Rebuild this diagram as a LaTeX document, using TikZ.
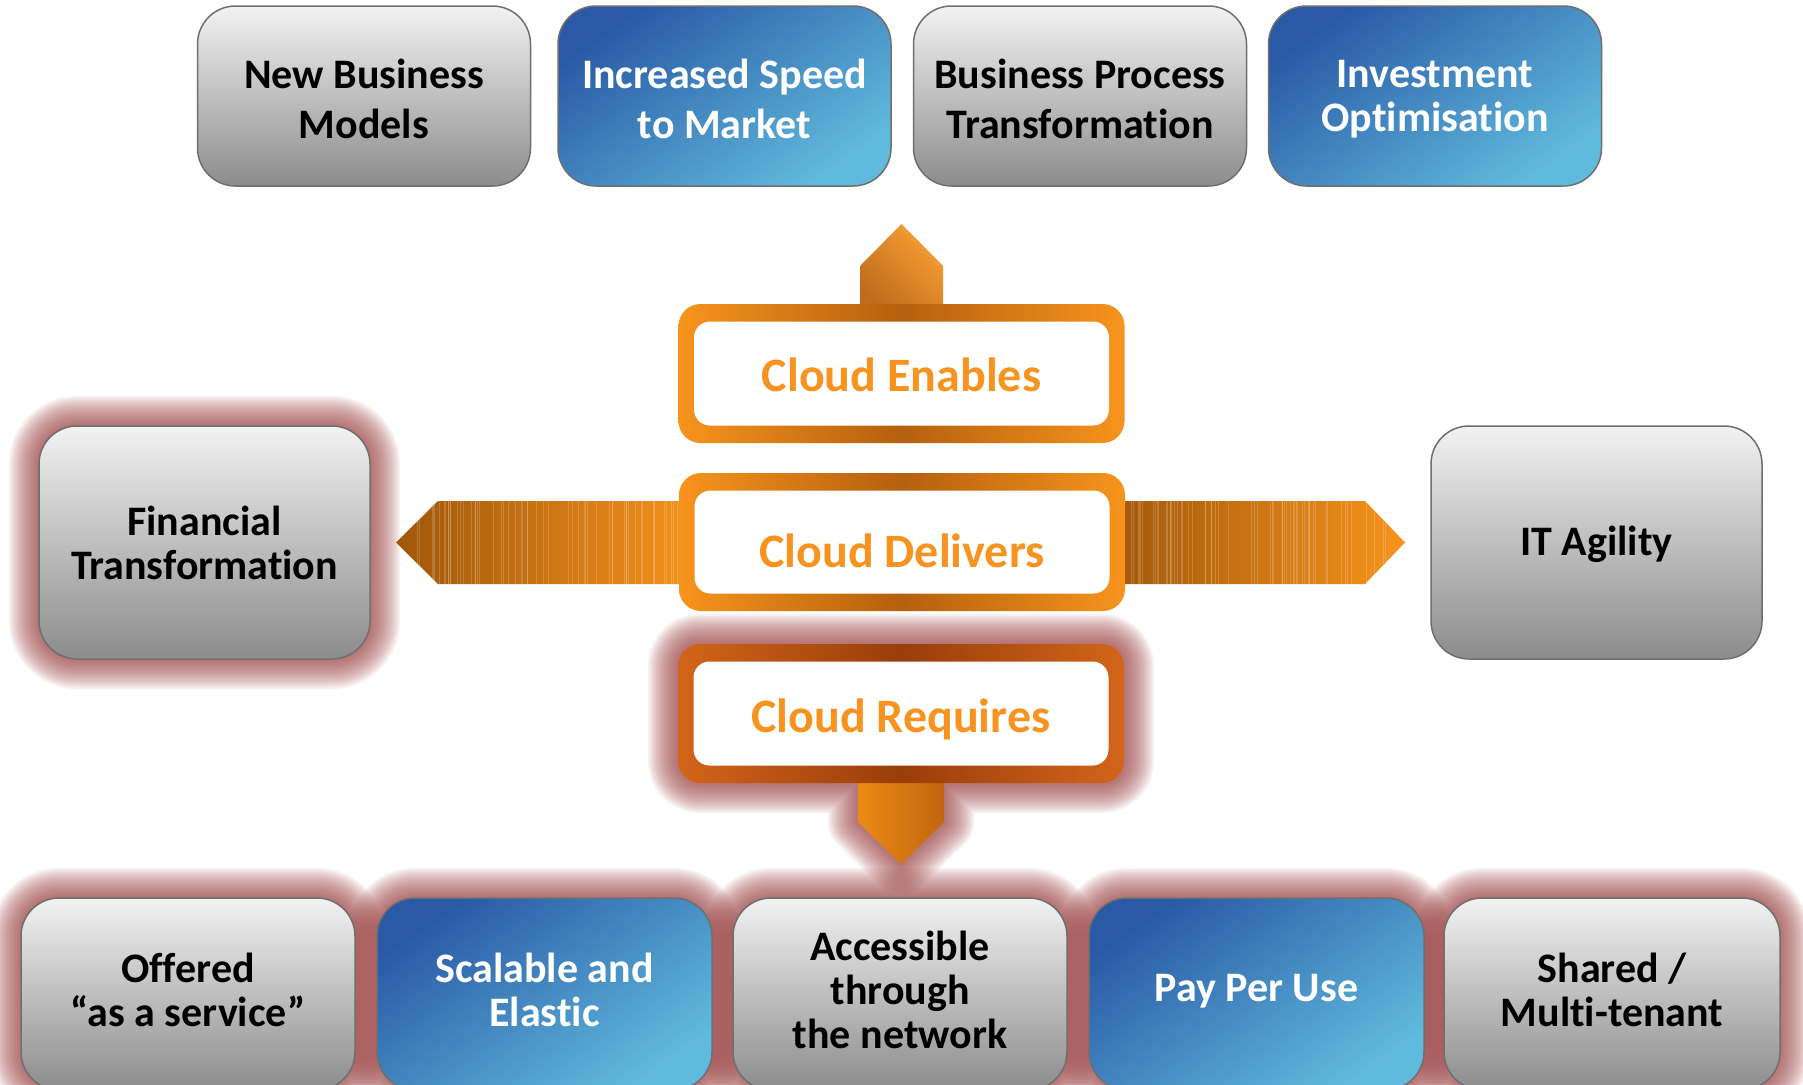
\documentclass[tikz,border=0pt]{standalone}
\usepackage{fontspec}
\setmainfont{Carlito}[Ligatures=NoCommon]
\usetikzlibrary{calc}
\definecolor{graytop}{HTML}{F2F2F2}
\definecolor{graybot}{HTML}{8C8C8C}
\definecolor{boxline}{HTML}{6F6F6F}
\definecolor{bluedark}{HTML}{2A5AA6}
\definecolor{bluelight}{HTML}{60BADD}
\definecolor{orng}{HTML}{F7941D}
\definecolor{orngdark}{HTML}{B5600E}
\definecolor{rqedge}{HTML}{D2651A}
\definecolor{rqdark}{HTML}{9A3D0A}
\definecolor{glowc}{HTML}{9C4040}
\definecolor{cloudtxt}{HTML}{F7931E}
\definecolor{arrdark}{HTML}{A0560A}
\definecolor{uptop}{HTML}{F8A035}
\definecolor{upbot}{HTML}{C06C1C}
\definecolor{dnleft}{HTML}{EC8A14}
\definecolor{dnright}{HTML}{C0660E}
\tikzset{
  box/.style={rounded corners=38pt, draw=boxline, line width=1.5pt,
    minimum width=333pt, minimum height=180pt, inner sep=0pt, align=center,
    font=\fontsize{42}{50}\selectfont\bfseries},
  tightbox/.style={font=\fontsize{42}{44}\selectfont\bfseries},
  graybox/.style={box, top color=graytop, bottom color=graybot, text=black},
  bluebox/.style={box, top color=bluedark, bottom color=bluelight, shading angle=35, text=white},
  boxtext/.style={inner sep=0pt, align=center, font=\fontsize{42}{50}\selectfont\bfseries},
  frameout/.style={rounded corners=22pt, minimum width=446pt, minimum height=139pt,
    inner sep=0pt, left color=orng, right color=orng, middle color=orngdark},
  framereq/.style={frameout, left color=rqedge, right color=rqedge, middle color=rqdark},
  framein/.style={rounded corners=16pt, fill=white, minimum width=415pt, minimum height=104pt,
    inner sep=0pt},
  cloudtext/.style={inner sep=0pt, text=cloudtxt, font=\fontsize{48}{56}\selectfont\bfseries},
  glowline/.style={glowc, draw opacity=0.075, line join=round},
  stripe/.style={white, draw opacity=0.18, line width=0.8pt}
}
\newcommand\glowrect[4]{%
  \foreach \w in {60,56,...,4}{%
    \draw[glowline, line width=\w pt, rounded corners=38pt] (#1,#2) rectangle (#3,#4);}}
\begin{document}
\begin{tikzpicture}[x=1pt,y=-1pt]
\useasboundingbox (0,0) rectangle (1803,1084);
\fill[white] (0,0) rectangle (1803,1084);

% glows
\glowrect{39}{426}{370}{659}
\glowrect{21}{898}{355}{1090}
\glowrect{377}{898}{712}{1090}
\glowrect{733}{898}{1067}{1090}
\glowrect{1089}{898}{1424}{1090}
\glowrect{1444}{898}{1780}{1090}
\foreach \w in {60,56,...,4}{%
  \draw[glowline, line width=\w pt] [rounded corners=22pt] (678,644) rectangle (1124,783)
    [sharp corners] (858,780) -- (944,780) -- (944,822) -- (901,864) -- (858,822) -- cycle;}

% horizontal arrows
\shade[left color=arrdark, right color=orng] (396,542.5) -- (438,501) -- (700,501) -- (700,584) -- (438,584) -- cycle;
\begin{scope}
  \clip (396,542.5) -- (438,501) -- (700,501) -- (700,584) -- (438,584) -- cycle;
  \pgfmathsetseed{7}
  \foreach \i in {1,...,60}{\pgfmathsetmacro\xx{400+rnd*290}
    \draw[stripe] (\xx,495) -- (\xx,590);}
\end{scope}
\shade[left color=arrdark, right color=orng] (1105,501) -- (1365,501) -- (1405,542.5) -- (1365,584) -- (1105,584) -- cycle;
\begin{scope}
  \clip (1105,501) -- (1365,501) -- (1405,542.5) -- (1365,584) -- (1105,584) -- cycle;
  \pgfmathsetseed{11}
  \foreach \i in {1,...,60}{\pgfmathsetmacro\xx{1120+rnd*280}
    \draw[stripe] (\xx,495) -- (\xx,590);}
\end{scope}

% up arrow
\shade[top color=uptop, bottom color=upbot, shading angle=-45]
  (860,310) -- (860,266) -- (901.5,224) -- (943,266) -- (943,310) -- cycle;
% down arrow
\shade[left color=dnleft, right color=dnright]
  (858,775) -- (944,775) -- (944,822) -- (901,864) -- (858,822) -- cycle;

% cloud frames
\node[frameout] (enF) at (901.5,373.5) {};
\node[framein] (enI) at (enF.center) {};
\node[cloudtext] (enT) at ($(enF.center)+(0,1)$) {Cloud Enables};
\node[frameout, minimum height=138pt] (dlF) at (902,542) {};
\node[framein, minimum height=103pt] (dlI) at (dlF.center) {};
\node[cloudtext] (dlT) at ($(dlF.center)+(0,9)$) {Cloud Delivers};
\node[framereq] (rqF) at (901,713.5) {};
\node[framein] (rqI) at (rqF.center) {};
\node[cloudtext] (rqT) at ($(rqF.center)+(0,6)$) {Cloud Requires};

% top row
\node[graybox] (nbm) at (364,96) {};
\node[boxtext] (nbmT) at ($(nbm.center)+(0,3)$) {New Business\\Models};
\node[bluebox] (isp) at (724.5,96) {};
\node[boxtext, text=white] (ispT) at ($(isp.center)+(0,3)$) {Increased Speed\\to Market};
\node[graybox] (bpt) at (1080,96) {};
\node[boxtext] (bptT) at ($(bpt.center)+(0,3)$) {Business Process\\Transformation};
\node[bluebox] (inv) at (1435,96) {};
\node[boxtext, tightbox, text=white] (invT) at ($(inv.center)+(0,3)$) {Investment\\Optimisation};

% middle row
\node[graybox, minimum width=331pt, minimum height=233pt] (fin) at (204.5,542.5) {};
\node[boxtext, tightbox] (finT) at (fin.center) {Financial\\Transformation};
\node[graybox, minimum width=331pt, minimum height=233pt] (ita) at (1596.5,542.5) {};
\node[boxtext] (itaT) at ($(ita.center)+(0,2)$) {IT Agility};

% bottom row
\node[graybox, minimum width=334pt, minimum height=192pt] (off) at (188,994) {};
\node[boxtext, tightbox] (offT) at ($(off.center)+(0,-4)$) {Offered\\“as a service”};
\node[bluebox, minimum width=335pt, minimum height=192pt] (sca) at (544.5,994) {};
\node[boxtext, tightbox, text=white] (scaT) at ($(sca.center)+(0,-4)$) {Scalable and\\Elastic};
\node[graybox, minimum width=334pt, minimum height=192pt] (acc) at (900,994) {};
\node[boxtext, tightbox] (accT) at ($(acc.center)+(0,-4)$) {Accessible\\through\\the network};
\node[bluebox, minimum width=335pt, minimum height=192pt] (ppu) at (1256.5,994) {};
\node[boxtext, text=white] (ppuT) at ($(ppu.center)+(0,-3)$) {Pay Per Use};
\node[graybox, minimum width=336pt, minimum height=192pt] (sha) at (1612,994) {};
\node[boxtext, tightbox] (shaT) at ($(sha.center)+(0,-4)$) {Shared /\\Multi-tenant};
\end{tikzpicture}
\end{document}
